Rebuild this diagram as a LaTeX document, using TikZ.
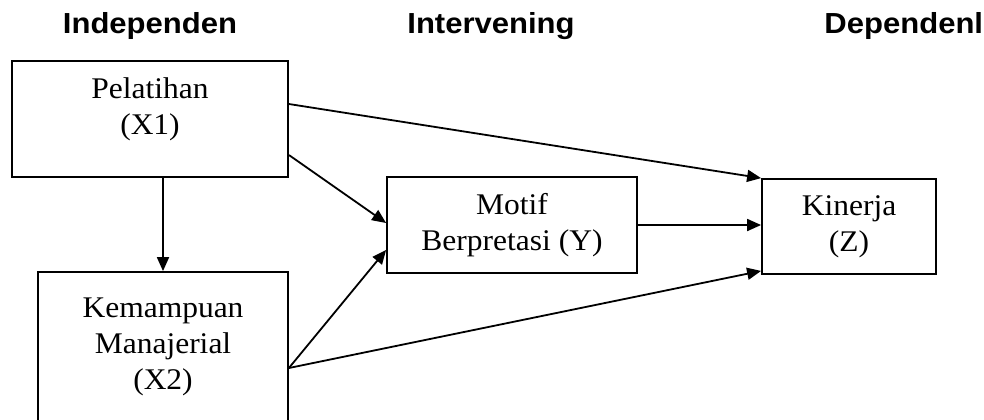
\documentclass[tikz,border=0pt]{standalone}
\usepackage{fontspec}
\setmainfont[FakeStretch=1.05]{Liberation Serif}
\newfontfamily\headfont[FakeStretch=1.07]{Liberation Sans}
\usetikzlibrary{arrows.meta,calc}

\begin{document}
\begin{tikzpicture}[x=0.5pt,y=-0.5pt]
    \useasboundingbox (0,0) rectangle (984,419);
    \begin{scope}[line width=0.9pt,
            box/.style={draw,align=center,inner sep=0pt,font=\fontsize{15}{18}\selectfont},
            head/.style={inner sep=0pt,font=\headfont\bfseries\fontsize{14.5}{17}\selectfont},
            arr/.style={-{Triangle[length=7pt,width=6pt]}}]

        \node [head,anchor=base]      (indep)  at (150,33) {Independen};
        \node [head,anchor=base]      (interv) at (491,33) {Intervening};
        \node [head,anchor=base east] (dep)    at (984,33) {Dependenl};

        \node [box,minimum width=138pt,minimum height=58pt]   (x1) at (150,119)   {Pelatihan\\(X1)\\[-5pt]};
        \node [box,minimum width=125pt,minimum height=75pt]   (x2) at (163,347)   {Kemampuan\\Manajerial\\(X2)};
        \node [box,minimum width=125pt,minimum height=48pt]   (y)  at (512,225)   {Motif\\Berpretasi (Y)};
        \node [box,minimum width=87pt,minimum height=47.5pt]  (z)  at (849,226.5) {Kinerja\\(Z)};

        \draw [arr] (x2.north |- x1.south) -- (x2.north);
        \draw [arr] ($(x1.east)+(0,-15)$) -- (z.north west);
        \draw [arr] ($(x1.east)+(0,36)$)  -- ($(y.west)+(0,-2)$);
        \draw [arr] (y.east) -- (y.east -| z.west);
        \draw [arr] ($(x2.east)+(0,21)$)  -- ($(y.west)+(0,25)$);
        \draw [arr] ($(x2.east)+(0,21)$)  -- ($(z.south west)+(0,-4)$);
    \end{scope}
\end{tikzpicture}
\end{document}
